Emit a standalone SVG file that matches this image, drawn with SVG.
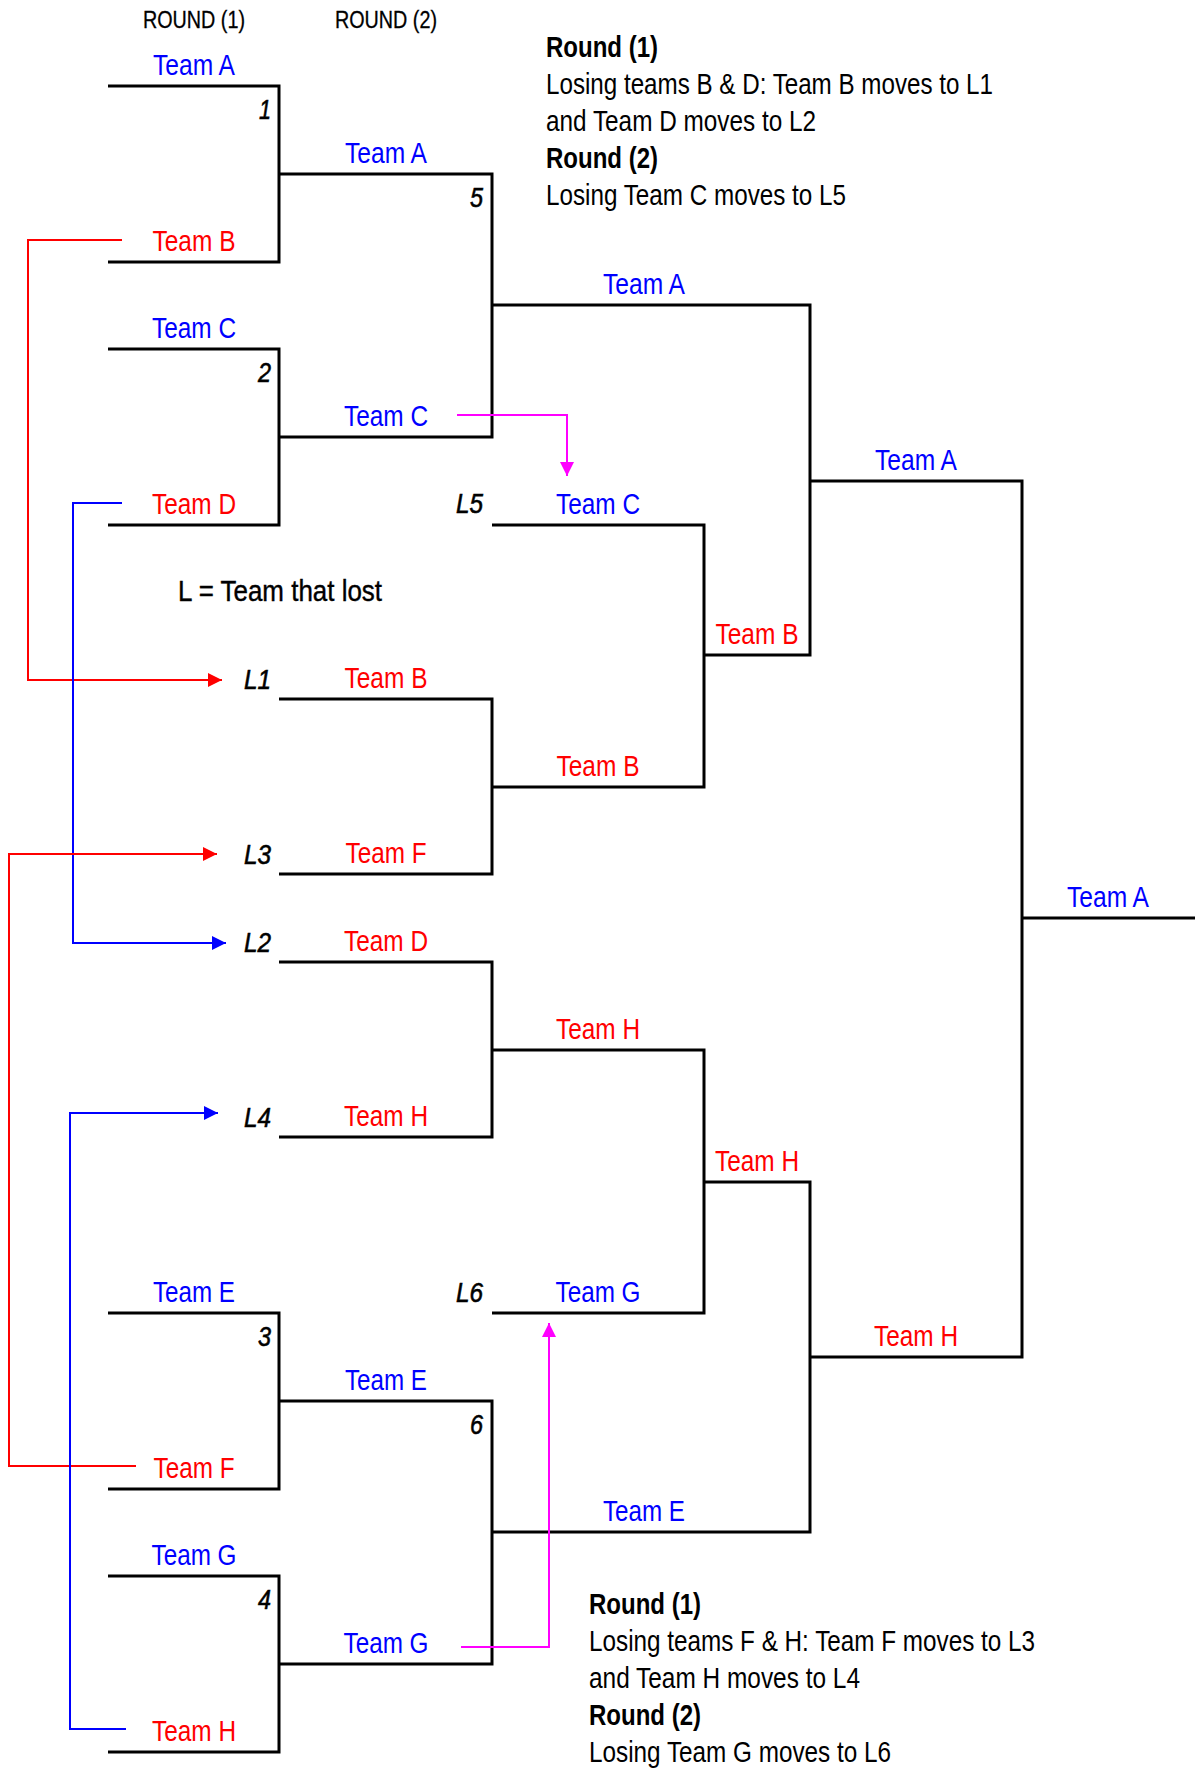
<svg xmlns="http://www.w3.org/2000/svg" width="1199" height="1769" viewBox="0 0 1199 1769">
  <style>
    text { font-family: "Liberation Sans", Arial, sans-serif; }
    .br { fill: none; stroke: #000; stroke-width: 3; stroke-linejoin: miter; }
    .t { font-size: 29px; text-anchor: middle; }
    .blue { fill: #0000ff; }
    .red { fill: #ff0000; }
    .num { font-size: 28px; font-style: italic; text-anchor: end; fill: #000; stroke: #000; stroke-width: 0.6; }
    .hdr { font-size: 23px; text-anchor: middle; fill: #000; stroke: #000; stroke-width: 0.3; }
    .note { font-size: 29px; fill: #000; }
    .nb { font-weight: bold; }
    .cn { fill: none; stroke-width: 2; }
    .cr { stroke: #ff0000; }
    .cb { stroke: #0000ff; }
    .cm { stroke: #ff00ff; }
  </style>
  <defs>
    <marker id="ah-red" markerUnits="userSpaceOnUse" markerWidth="15" markerHeight="15" refX="14" refY="7" orient="auto">
      <path d="M0,0 L14,7 L0,14 z" fill="#ff0000"/>
    </marker>
    <marker id="ah-blue" markerUnits="userSpaceOnUse" markerWidth="15" markerHeight="15" refX="14" refY="7" orient="auto">
      <path d="M0,0 L14,7 L0,14 z" fill="#0000ff"/>
    </marker>
    <marker id="ah-mag" markerUnits="userSpaceOnUse" markerWidth="15" markerHeight="15" refX="14" refY="7" orient="auto">
      <path d="M0,0 L14,7 L0,14 z" fill="#ff00ff"/>
    </marker>
  </defs>

  <rect width="1199" height="1769" fill="#fff"/>

  <!-- column headings -->
  <g id="headings">
    <text class="hdr" x="194" y="28" textLength="102" lengthAdjust="spacingAndGlyphs">ROUND (1)</text>
    <text class="hdr" x="386" y="28" textLength="102" lengthAdjust="spacingAndGlyphs">ROUND (2)</text>
  </g>

  <!-- explanatory notes -->
  <g id="notes-top">
    <text class="note nb" x="546" y="57" textLength="112" lengthAdjust="spacingAndGlyphs">Round (1)</text>
    <text class="note" x="546" y="94" textLength="447" lengthAdjust="spacingAndGlyphs">Losing teams B &amp; D: Team B moves to L1</text>
    <text class="note" x="546" y="131" textLength="270" lengthAdjust="spacingAndGlyphs">and Team D moves to L2</text>
    <text class="note nb" x="546" y="168" textLength="112" lengthAdjust="spacingAndGlyphs">Round (2)</text>
    <text class="note" x="546" y="205" textLength="300" lengthAdjust="spacingAndGlyphs">Losing Team C moves to L5</text>
  </g>
  <g id="legend">
    <text class="note" x="178" y="601" font-size="28" stroke="#000" stroke-width="0.4" textLength="204" lengthAdjust="spacingAndGlyphs">L = Team that lost</text>
  </g>
  <g id="notes-bottom">
    <text class="note nb" x="589" y="1614" textLength="112" lengthAdjust="spacingAndGlyphs">Round (1)</text>
    <text class="note" x="589" y="1651" textLength="446" lengthAdjust="spacingAndGlyphs">Losing teams F &amp; H: Team F moves to L3</text>
    <text class="note" x="589" y="1688" textLength="271" lengthAdjust="spacingAndGlyphs">and Team H moves to L4</text>
    <text class="note nb" x="589" y="1725" textLength="112" lengthAdjust="spacingAndGlyphs">Round (2)</text>
    <text class="note" x="589" y="1762" textLength="302" lengthAdjust="spacingAndGlyphs">Losing Team G moves to L6</text>
  </g>

  <!-- round 1 -->
  <g id="match-1">
    <path class="br" d="M108,86 H279 V262 H108"/>
    <text class="t blue" x="194" y="75" textLength="82" lengthAdjust="spacingAndGlyphs">Team A</text>
    <text class="t red" x="194" y="251" textLength="83" lengthAdjust="spacingAndGlyphs">Team B</text>
    <text class="num" x="271" y="119" textLength="12" lengthAdjust="spacingAndGlyphs">1</text>
  </g>
  <g id="match-2">
    <path class="br" d="M108,349 H279 V525 H108"/>
    <text class="t blue" x="194" y="338" textLength="84" lengthAdjust="spacingAndGlyphs">Team C</text>
    <text class="t red" x="194" y="514" textLength="84" lengthAdjust="spacingAndGlyphs">Team D</text>
    <text class="num" x="271" y="382" textLength="13" lengthAdjust="spacingAndGlyphs">2</text>
  </g>
  <g id="match-3">
    <path class="br" d="M108,1313 H279 V1489 H108"/>
    <text class="t blue" x="194" y="1302" textLength="82" lengthAdjust="spacingAndGlyphs">Team E</text>
    <text class="t red" x="194" y="1478" textLength="81" lengthAdjust="spacingAndGlyphs">Team F</text>
    <text class="num" x="271" y="1346" textLength="13" lengthAdjust="spacingAndGlyphs">3</text>
  </g>
  <g id="match-4">
    <path class="br" d="M108,1576 H279 V1752 H108"/>
    <text class="t blue" x="194" y="1565" textLength="85" lengthAdjust="spacingAndGlyphs">Team G</text>
    <text class="t red" x="194" y="1741" textLength="84" lengthAdjust="spacingAndGlyphs">Team H</text>
    <text class="num" x="271" y="1609" textLength="13" lengthAdjust="spacingAndGlyphs">4</text>
  </g>

  <!-- round 2 -->
  <g id="match-5">
    <path class="br" d="M279,174 H492 V437 H279"/>
    <text class="t blue" x="386" y="163" textLength="82" lengthAdjust="spacingAndGlyphs">Team A</text>
    <text class="t blue" x="386" y="426" textLength="84" lengthAdjust="spacingAndGlyphs">Team C</text>
    <text class="num" x="483" y="207" textLength="13" lengthAdjust="spacingAndGlyphs">5</text>
  </g>
  <g id="match-6">
    <path class="br" d="M279,1401 H492 V1664 H279"/>
    <text class="t blue" x="386" y="1390" textLength="82" lengthAdjust="spacingAndGlyphs">Team E</text>
    <text class="t blue" x="386" y="1653" textLength="85" lengthAdjust="spacingAndGlyphs">Team G</text>
    <text class="num" x="483" y="1434" textLength="13" lengthAdjust="spacingAndGlyphs">6</text>
  </g>

  <!-- losers' slots L1 / L3 -->
  <g id="match-L1-L3">
    <path class="br" d="M279,699 H492 V874 H279"/>
    <text class="num" x="271" y="689" textLength="27" lengthAdjust="spacingAndGlyphs">L1</text>
    <text class="num" x="271" y="864" textLength="27" lengthAdjust="spacingAndGlyphs">L3</text>
    <text class="t red" x="386" y="688" textLength="83" lengthAdjust="spacingAndGlyphs">Team B</text>
    <text class="t red" x="386" y="863" textLength="81" lengthAdjust="spacingAndGlyphs">Team F</text>
  </g>
  <!-- losers' slots L2 / L4 -->
  <g id="match-L2-L4">
    <path class="br" d="M279,962 H492 V1137 H279"/>
    <text class="num" x="271" y="952" textLength="27" lengthAdjust="spacingAndGlyphs">L2</text>
    <text class="num" x="271" y="1127" textLength="27" lengthAdjust="spacingAndGlyphs">L4</text>
    <text class="t red" x="386" y="951" textLength="84" lengthAdjust="spacingAndGlyphs">Team D</text>
    <text class="t red" x="386" y="1126" textLength="84" lengthAdjust="spacingAndGlyphs">Team H</text>
  </g>

  <!-- L5 against winner of L1/L3 -->
  <g id="match-L5">
    <path class="br" d="M492,525 H704 V787 H492"/>
    <text class="num" x="483" y="513" textLength="27" lengthAdjust="spacingAndGlyphs">L5</text>
    <text class="t blue" x="598" y="514" textLength="84" lengthAdjust="spacingAndGlyphs">Team C</text>
    <text class="t red" x="598" y="776" textLength="83" lengthAdjust="spacingAndGlyphs">Team B</text>
  </g>
  <!-- L6 against winner of L2/L4 -->
  <g id="match-L6">
    <path class="br" d="M492,1050 H704 V1313 H492"/>
    <text class="num" x="483" y="1302" textLength="27" lengthAdjust="spacingAndGlyphs">L6</text>
    <text class="t red" x="598" y="1039" textLength="84" lengthAdjust="spacingAndGlyphs">Team H</text>
    <text class="t blue" x="598" y="1302" textLength="85" lengthAdjust="spacingAndGlyphs">Team G</text>
  </g>

  <!-- round 3 -->
  <g id="match-upper">
    <path class="br" d="M492,305 H810 V655 H704"/>
    <text class="t blue" x="644" y="294" textLength="82" lengthAdjust="spacingAndGlyphs">Team A</text>
    <text class="t red" x="757" y="644" textLength="83" lengthAdjust="spacingAndGlyphs">Team B</text>
  </g>
  <g id="match-lower">
    <path class="br" d="M704,1182 H810 V1532 H492"/>
    <text class="t red" x="757" y="1171" textLength="84" lengthAdjust="spacingAndGlyphs">Team H</text>
    <text class="t blue" x="644" y="1521" textLength="82" lengthAdjust="spacingAndGlyphs">Team E</text>
  </g>

  <!-- final -->
  <g id="match-final">
    <path class="br" d="M810,481 H1022 V1357 H810"/>
    <path class="br" d="M1022,918 H1195"/>
    <text class="t blue" x="916" y="470" textLength="82" lengthAdjust="spacingAndGlyphs">Team A</text>
    <text class="t red" x="916" y="1346" textLength="84" lengthAdjust="spacingAndGlyphs">Team H</text>
    <text class="t blue" x="1108" y="907" textLength="82" lengthAdjust="spacingAndGlyphs">Team A</text>
  </g>

  <!-- moves of losing teams -->
  <g id="connectors">
    <path class="cn cr" d="M122,240 H28 V680 H222" marker-end="url(#ah-red)"/>
    <path class="cn cb" d="M122,503 H73 V943 H226" marker-end="url(#ah-blue)"/>
    <path class="cn cr" d="M136,1466 H9 V854 H217" marker-end="url(#ah-red)"/>
    <path class="cn cb" d="M126,1729 H70 V1113 H218" marker-end="url(#ah-blue)"/>
    <path class="cn cm" d="M457,415 H567 V476" marker-end="url(#ah-mag)"/>
    <path class="cn cm" d="M461,1647 H549 V1323" marker-end="url(#ah-mag)"/>
  </g>
</svg>
